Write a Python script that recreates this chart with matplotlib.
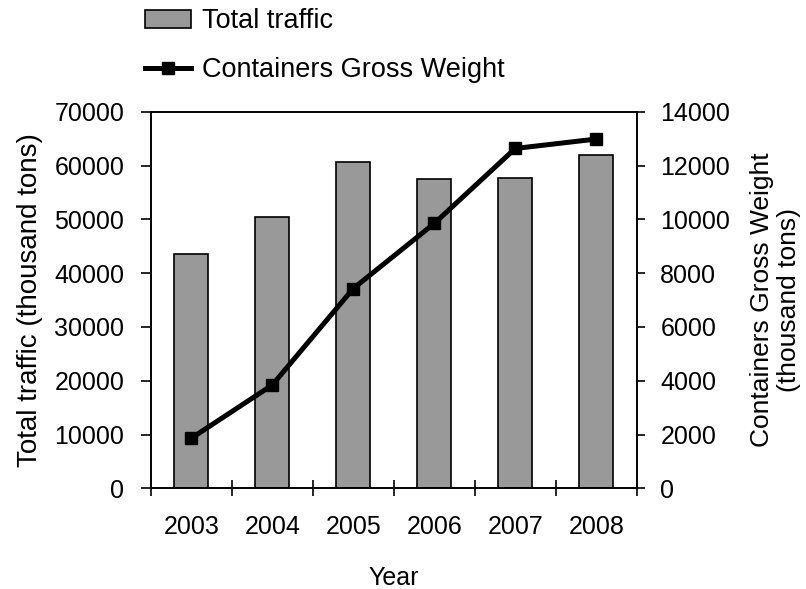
import matplotlib
matplotlib.use('Agg')
import matplotlib.pyplot as plt
import numpy as np

years = ['2003', '2004', '2005', '2006', '2007', '2008']
total_traffic = [43500, 50400, 60600, 57500, 57800, 61950]
containers_weight = [1860, 3840, 7430, 9850, 12640, 12990]

plt.rcParams['font.family'] = ['Liberation Sans', 'DejaVu Sans']
plt.rcParams['font.size'] = 18

fig = plt.figure(figsize=(8.06, 5.89), dpi=100)
ax = fig.add_axes([0.187, 0.171, 0.603, 0.639])
x = np.arange(len(years))

bars = ax.bar(x, total_traffic, width=0.42, color='#999999', edgecolor='black',
              linewidth=1.2, label='Total traffic')
ax.set_xlim(-0.5, len(years) - 0.5)
ax.set_ylim(0, 70000)
ax.set_yticks(range(0, 70001, 10000))
ax.set_xticks(x)
ax.set_xticklabels(years)
ax.set_xticks(np.arange(-0.5, len(years), 1.0), minor=True)
ax.tick_params(axis='x', which='major', length=0, pad=19)
ax.tick_params(axis='x', which='minor', direction='inout', length=12, width=1.2)
ax.tick_params(axis='y', direction='out', length=7, width=1.2, pad=12)
ax.set_ylabel('Total traffic (thousand tons)', fontsize=20, labelpad=8)
ax.set_xlabel('Year', labelpad=20)
for s in ax.spines.values():
    s.set_linewidth(1.2)

ax2 = ax.twinx()
line, = ax2.plot(x, containers_weight, color='black', linewidth=3.6, marker='s',
                 markersize=9, label='Containers Gross Weight')
ax2.set_ylim(0, 14000)
ax2.set_yticks(range(0, 14001, 2000))
ax2.tick_params(axis='y', direction='out', length=6, width=1.2, pad=11)
ax2.set_ylabel('Containers Gross Weight\n(thousand tons)', rotation=90,
               fontsize=19, labelpad=14)
for s in ax2.spines.values():
    s.set_linewidth(1.2)

fig.legend(handles=[bars, line], loc='upper left', bbox_to_anchor=(0.15, 1.027),
           frameon=False, fontsize=19.5, labelspacing=0.85, handlelength=1.7,
           handletextpad=0.4)

plt.savefig('out.png', dpi=100)
